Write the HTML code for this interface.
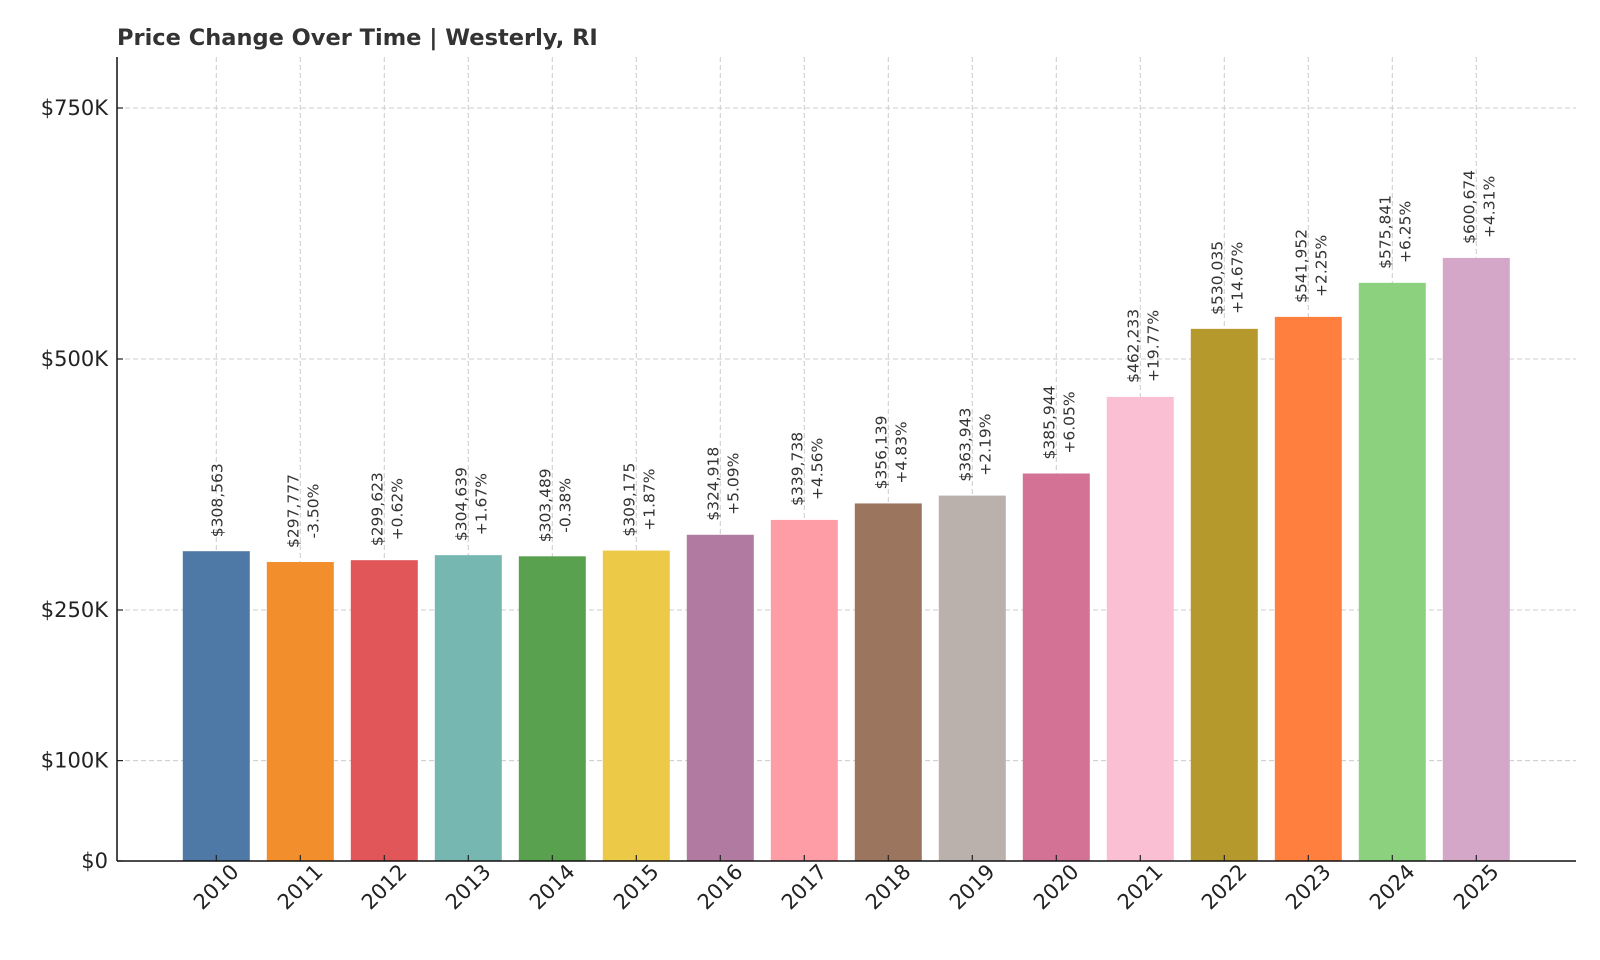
<!DOCTYPE html>
<html><head><meta charset="utf-8"><style>
html,body{margin:0;padding:0;background:#fff;}
svg{display:block;font-family:"DejaVu Sans","Liberation Sans",sans-serif;}
</style></head><body>
<svg id="chart" width="1600" height="960" viewBox="0 0 1600 960" xmlns="http://www.w3.org/2000/svg">
<text x="117" y="45" font-size="22.5" font-weight="bold" fill="#333">Price Change Over Time | Westerly, RI</text>
<g id="grid"></g><g id="bars"></g><g id="labels"></g><g id="axes"></g>
</svg>
<script>
const years=["2010","2011","2012","2013","2014","2015","2016","2017","2018","2019","2020","2021","2022","2023","2024","2025"];
const prices=[308563,297777,299623,304639,303489,309175,324918,339738,356139,363943,385944,462233,530035,541952,575841,600674];
const changes=["","-3.50%","+0.62%","+1.67%","-0.38%","+1.87%","+5.09%","+4.56%","+4.83%","+2.19%","+6.05%","+19.77%","+14.67%","+2.25%","+6.25%","+4.31%"];
const colors=["#4e79a7","#f28e2b","#e15759","#76b7b2","#59a14f","#edc948","#b07aa1","#ff9da7","#9c755f","#bab0ac","#d37295","#fabfd2","#b6992d","#ff7f3f","#8cd17d","#d4a6c8"];
const yTicks=[0,100000,250000,500000,750000];
const yTickLabels=["$0","$100K","$250K","$500K","$750K"];
const NS="http://www.w3.org/2000/svg";
const L=117,R=1576,T=57,B=861;
const yMax=(B-T)/(B-359)*500000;
function y(v){return B-v/yMax*(B-T);}
const step=84,x0=216.3;
function x(i){return x0+i*step;}
const bw=67;
function mk(tag,attrs,parent){const e=document.createElementNS(NS,tag);for(const k in attrs)e.setAttribute(k,attrs[k]);parent.appendChild(e);return e;}
const grid=document.getElementById('grid'),bars=document.getElementById('bars'),labels=document.getElementById('labels'),axes=document.getElementById('axes');
yTicks.forEach((v,i)=>{
 const g=mk('line',{x1:L,x2:R,y1:y(v),y2:y(v),stroke:'#ccc','stroke-dasharray':'5,3','stroke-width':1},grid);
 
 
 const t=mk('text',{x:L-9,y:y(v)+7,'text-anchor':'end','font-size':21,fill:'#222'},axes);
 t.textContent=yTickLabels[i];
 
 
 mk('line',{x1:L,x2:L+6,y1:y(v),y2:y(v),stroke:'#222','stroke-width':1.2},axes);
});
years.forEach((yr,i)=>{
 const cx=x(i);
 const g=mk('line',{x1:cx,x2:cx,y1:T,y2:B,stroke:'#ccc','stroke-dasharray':'5,3','stroke-width':1},grid);
 
 
 const top=y(prices[i]);
 const r=mk('rect',{x:cx-bw/2,y:top,width:bw,height:B-top,fill:colors[i]},bars);
 
 
 const val='$'+prices[i].toLocaleString('en-US');
 const cy=top-11-40;
 const lines=changes[i]?[[val,cx-2],[changes[i],cx+18]]:[[val,cx+6]];
 lines.forEach(([s,bx])=>{
  const t=mk('text',{x:bx,y:cy,'text-anchor':'middle','font-size':15.5,fill:'#333',transform:`rotate(-90 ${bx} ${cy})`},labels);
  t.textContent=s;
  
  
 });
 mk('line',{x1:cx,x2:cx,y1:B,y2:B-6,stroke:'#222','stroke-width':1.2},axes);
 const ty=887;
 const t=mk('text',{x:cx,y:ty,'text-anchor':'middle','dominant-baseline':'central','font-size':21,fill:'#222',transform:`rotate(-45 ${cx} ${ty})`},axes);
 t.textContent=yr;
 
 
});
const ya=mk('line',{x1:L,x2:L,y1:T,y2:B,stroke:'#111','stroke-width':1.5},axes);


const xa=mk('line',{x1:L,x2:R,y1:B,y2:B,stroke:'#111','stroke-width':1.5},axes);


</script>
</body></html>
